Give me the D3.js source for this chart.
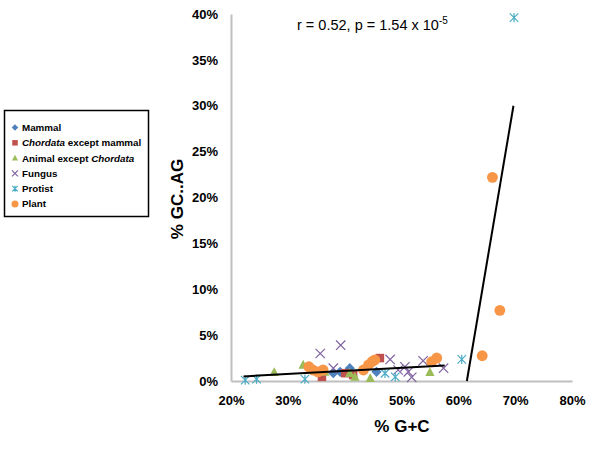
<!DOCTYPE html>
<html>
<head>
<meta charset="utf-8">
<script src="https://cdn.jsdelivr.net/npm/d3@7"></script>
<style>
  body { margin: 0; background: #fff; }
  svg { font-family: "Liberation Sans", Arial, sans-serif; }
</style>
</head>
<body>
<div id="chart"></div>
<script>
// data: [% G+C, % GC..AG]
const mammal = [[38.0, 0.85], [39.2, 1.0], [40.9, 1.4], [45.6, 1.0]];
const chordata = [[36.0, 0.45], [40.1, 0.85], [41.5, 0.65], [46.2, 2.5]];
const animal = [[27.6, 0.95], [32.7, 1.75], [36.5, 1.0], [40.9, 0.85], [41.8, 0.45], [44.5, 0.3], [55.0, 0.95]];
const fungus = [[35.7, 3.0], [39.3, 3.9], [38.0, 1.4], [48.0, 2.35], [49.4, 1.2], [50.6, 1.55],
  [51.2, 1.0], [51.8, 0.4], [53.8, 2.2], [57.4, 1.4]];
const protist = [[22.5, 0.1], [24.5, 0.2], [33.0, 0.2], [47.1, 0.85], [48.9, 0.45], [60.6, 2.35], [69.8, 39.6]];
const plant = [[33.7, 1.55], [34.4, 1.2], [35.3, 1.0], [36.2, 1.2], [43.3, 1.2], [44.2, 1.75], [44.8, 2.1],
  [45.3, 2.3], [55.3, 2.1], [56.2, 2.5], [64.2, 2.75], [66.0, 22.2], [67.3, 7.7]];
const trendLow = [[22.2, 0.5], [57.6, 1.7]];
const trendHigh = [[61.5, 0], [69.7, 30]];
const xTicks = [20, 30, 40, 50, 60, 70, 80];
const yTicks = [0, 5, 10, 15, 20, 25, 30, 35, 40];

const series = [
  { name: "Mammal", data: mammal, color: "#4F81BD", shape: "diamond" },
  { name: "Chordata", suffix: " except mammal", data: chordata, color: "#C0504D", shape: "square" },
  { name: "Animal except ", suffix: "Chordata", data: animal, color: "#9BBB59", shape: "triangle", italicSuffix: true },
  { name: "Fungus", data: fungus, color: "#8064A2", shape: "x" },
  { name: "Protist", data: protist, color: "#4BACC6", shape: "star" },
  { name: "Plant", data: plant, color: "#F79646", shape: "circle" }
];

const width = 600, height = 450;
const svg = d3.select("#chart").append("svg")
  .attr("width", width)
  .attr("height", height);

const x = d3.scaleLinear().domain([20, 80]).range([231, 572]);
const y = d3.scaleLinear().domain([0, 40]).range([381, 14]);
const pct = d => d + "%";

// axes
const yAxis = svg.append("g")
  .attr("transform", `translate(${x(20)},0)`)
  .call(d3.axisLeft(y).tickValues(yTicks).tickFormat(pct).tickSize(0).tickPadding(13));
const xAxis = svg.append("g")
  .attr("transform", `translate(0,${y(0)})`)
  .call(d3.axisBottom(x).tickValues(xTicks).tickFormat(pct).tickSize(0).tickPadding(15));
[yAxis, xAxis].forEach(g => {
  g.select(".domain").attr("stroke", "#bfbfbf").attr("stroke-width", 2);
  g.selectAll("text")
    .attr("font-family", "'Liberation Sans', Arial, sans-serif")
    .attr("font-size", 13)
    .attr("font-weight", "bold")
    .attr("fill", "#000");
});

// axis titles
svg.append("text")
  .attr("x", 402)
  .attr("y", 432)
  .attr("text-anchor", "middle")
  .attr("font-size", 17)
  .attr("font-weight", "bold")
  .text("% G+C");

svg.append("text")
  .attr("transform", "translate(183,199) rotate(-90)")
  .attr("text-anchor", "middle")
  .attr("font-size", 17)
  .attr("font-weight", "bold")
  .text("% GC..AG");

// marker drawing
function marker(g, shape, color, s) {
  if (shape === "circle") {
    g.append("circle").attr("r", s * 0.64).attr("fill", color);
  } else if (shape === "diamond") {
    g.append("path").attr("d", `M0,${-s * 0.6}L${s * 0.6},0L0,${s * 0.6}L${-s * 0.6},0Z`).attr("fill", color);
  } else if (shape === "square") {
    g.append("rect").attr("x", -s / 2).attr("y", -s / 2).attr("width", s).attr("height", s).attr("fill", color);
  } else if (shape === "triangle") {
    g.append("path").attr("d", `M0,${-s * 0.6}L${s * 0.55},${s * 0.45}L${-s * 0.55},${s * 0.45}Z`).attr("fill", color);
  } else if (shape === "x") {
    const h = s * 0.55;
    g.append("path").attr("d", `M${-h},${-h}L${h},${h}M${-h},${h}L${h},${-h}`)
      .attr("stroke", color).attr("stroke-width", 1.2).attr("fill", "none");
  } else if (shape === "star") {
    const h = s * 0.5;
    g.append("path").attr("d", `M${-h},${-h}L${h},${h}M${-h},${h}L${h},${-h}M0,${-h * 1.1}L0,${h * 1.1}`)
      .attr("stroke", color).attr("stroke-width", 1.2).attr("fill", "none");
  }
}

const plot = svg.append("g");
series.forEach(s => {
  plot.selectAll(null)
    .data(s.data)
    .enter().append("g")
    .attr("transform", d => `translate(${x(d[0])},${y(d[1])})`)
    .each(function () { marker(d3.select(this), s.shape, s.color, 8.5); });
});

// trend lines
const line = d3.line().x(d => x(d[0])).y(d => y(d[1]));
[trendLow, trendHigh].forEach(t => {
  svg.append("path")
    .attr("d", line(t))
    .attr("fill", "none")
    .attr("stroke", "#000")
    .attr("stroke-width", 2);
});

// annotation
const note = svg.append("text")
  .attr("x", 297)
  .attr("y", 30)
  .attr("font-size", 14.5)
  .text("r = 0.52, p = 1.54 x 10");
note.append("tspan")
  .attr("dy", -6)
  .attr("font-size", 10)
  .text("-5");

// legend
const legend = svg.append("g");
legend.append("rect")
  .attr("x", 4.5).attr("y", 110.5)
  .attr("width", 144).attr("height", 106)
  .attr("fill", "#fff")
  .attr("stroke", "#000")
  .attr("stroke-width", 1.5);

series.forEach((s, i) => {
  const cy = 127.5 + i * 15.3;
  const g = legend.append("g").attr("transform", `translate(15,${cy})`);
  marker(g, s.shape, s.color, 5.5);
  const t = legend.append("text")
    .attr("x", 22)
    .attr("y", cy)
    .attr("dy", "0.35em")
    .attr("font-size", 9.8)
    .attr("font-weight", "bold");
  if (s.name === "Chordata") {
    t.append("tspan").attr("font-style", "italic").text(s.name);
    t.append("tspan").text(s.suffix);
  } else if (s.italicSuffix) {
    t.append("tspan").text(s.name);
    t.append("tspan").attr("font-style", "italic").text(s.suffix);
  } else {
    t.text(s.name);
  }
});
</script>
</body>
</html>
